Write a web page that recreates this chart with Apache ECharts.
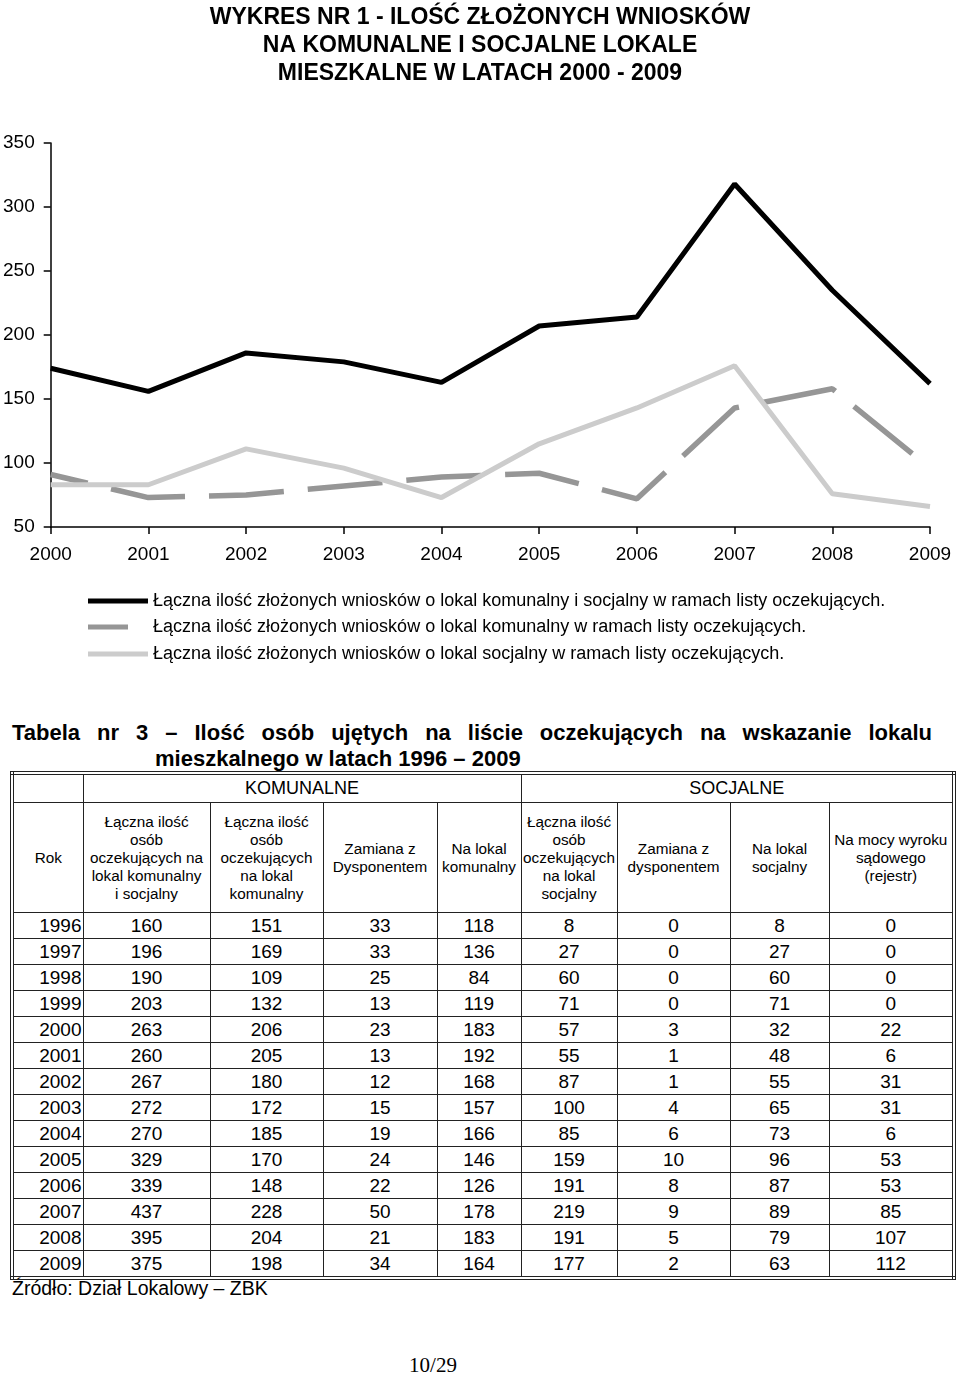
<!DOCTYPE html>
<html>
<head>
<meta charset="utf-8">
<script src="https://cdn.jsdelivr.net/npm/echarts@6/dist/echarts.min.js"></script>
<style>
  html, body { margin: 0; padding: 0; background: #fff; }
  body { width: 960px; height: 1375px; position: relative; overflow: hidden; font-family: "Liberation Sans", Arial, sans-serif; color: #000; }
  #chart { position: absolute; left: 0; top: 0; width: 960px; height: 690px; }
  #tblTitle { position: absolute; left: 12px; top: 720px; width: 920px; font-weight: bold; font-size: 22px; line-height: 26px; }
  #tblTitle .l1 { text-align: justify; text-align-last: justify; white-space: nowrap; }
  #tblTitle .l2 { padding-left: 143px; }
  #tbl { position: absolute; left: 10px; top: 771px; border-collapse: collapse; table-layout: fixed; width: 945px; border: 4px double #222; }
  #tbl td { border: 1px solid #222; padding: 0; text-align: center; vertical-align: middle; overflow: hidden; }
  #tbl tr.grp td { height: 27px; font-size: 18px; }
  #tbl tr.hdr td { height: 109px; font-size: 15.3px; line-height: 18px; }
  #tbl tr.dat td { height: 25px; font-size: 19px; line-height: 22px; }
  #tbl tr.dat td.yr { text-align: right; padding-right: 1px; }
  #src { position: absolute; left: 12px; top: 1276px; font-size: 19.5px; line-height: 24px; white-space: nowrap; }
  #page { position: absolute; left: 0; width: 866px; text-align: center; top: 1352px; font-family: "Liberation Serif", "Times New Roman", serif; font-size: 21px; line-height: 26px; }
</style>
</head>
<body>
<div id="chart"></div>
<div id="tblTitle">
  <div class="l1">Tabela nr 3 – Ilość osób ujętych na liście oczekujących na wskazanie lokalu</div>
  <div class="l2">mieszkalnego w latach 1996 – 2009</div>
</div>
<table id="tbl"></table>
<div id="src">Źródło: Dział Lokalowy – ZBK</div>
<div id="page">10/29</div>
<script>
// ---- Chart data ----
var chartYears = ['2000', '2001', '2002', '2003', '2004', '2005', '2006', '2007', '2008', '2009'];
var totalApps = [174, 156, 186, 179, 163, 207, 214, 318, 235, 162];
var komunalneApps = [91, 73, 75, 82, 89, 92, 72, 143, 158, 96];
var socjalneApps = [83, 83, 111, 96, 73, 115, 143, 176, 76, 66];
var yTicks = [50, 100, 150, 200, 250, 300, 350];

var seriesNames = [
  'Łączna ilość złożonych wniosków o lokal komunalny i socjalny w ramach listy oczekujących.',
  'Łączna ilość złożonych wniosków o lokal komunalny w ramach listy oczekujących.',
  'Łączna ilość złożonych wniosków o lokal socjalny w ramach listy oczekujących.'
];

// ---- Table data ----
var tableYears = [1996, 1997, 1998, 1999, 2000, 2001, 2002, 2003, 2004, 2005, 2006, 2007, 2008, 2009];
var colTotal = [160, 196, 190, 203, 263, 260, 267, 272, 270, 329, 339, 437, 395, 375];
var colKomTotal = [151, 169, 109, 132, 206, 205, 180, 172, 185, 170, 148, 228, 204, 198];
var colKomZamiana = [33, 33, 25, 13, 23, 13, 12, 15, 19, 24, 22, 50, 21, 34];
var colKomLokal = [118, 136, 84, 119, 183, 192, 168, 157, 166, 146, 126, 178, 183, 164];
var colSocTotal = [8, 27, 60, 71, 57, 55, 87, 100, 85, 159, 191, 219, 191, 177];
var colSocZamiana = [0, 0, 0, 0, 3, 1, 1, 4, 6, 10, 8, 9, 5, 2];
var colSocLokal = [8, 27, 60, 71, 32, 48, 55, 65, 73, 96, 87, 89, 79, 63];
var colSocWyrok = [0, 0, 0, 0, 22, 6, 31, 31, 6, 53, 53, 85, 107, 112];
var groupHeaders = ['KOMUNALNE', 'SOCJALNE'];
var colHeaders = [
  'Rok',
  'Łączna ilość<br>osób<br>oczekujących na<br>lokal komunalny<br>i socjalny',
  'Łączna ilość<br>osób<br>oczekujących<br>na lokal<br>komunalny',
  'Zamiana z<br>Dysponentem',
  'Na lokal<br>komunalny',
  'Łączna ilość<br>osób<br>oczekujących<br>na lokal<br>socjalny',
  'Zamiana z<br>dysponentem',
  'Na lokal<br>socjalny',
  'Na mocy wyroku<br>sądowego<br>(rejestr)'
];
var colWidths = [71, 127, 113, 114, 84, 96, 113, 99, 125];

// ---- Build table ----
(function () {
  var t = document.getElementById('tbl');
  var html = '<colgroup>';
  colWidths.forEach(function (w) { html += '<col style="width:' + w + 'px">'; });
  html += '</colgroup>';
  html += '<tr class="grp"><td></td><td colspan="4">' + groupHeaders[0] + '</td><td colspan="4">' + groupHeaders[1] + '</td></tr>';
  html += '<tr class="hdr">';
  colHeaders.forEach(function (h) { html += '<td>' + h + '</td>'; });
  html += '</tr>';
  var cols = [colTotal, colKomTotal, colKomZamiana, colKomLokal, colSocTotal, colSocZamiana, colSocLokal, colSocWyrok];
  tableYears.forEach(function (y, i) {
    html += '<tr class="dat"><td class="yr">' + y + '</td>';
    cols.forEach(function (c) { html += '<td>' + c[i] + '</td>'; });
    html += '</tr>';
  });
  t.innerHTML = html;
})();

// ---- Chart ----
var chart = echarts.init(document.getElementById('chart'), null, { renderer: 'canvas' });
var font = '"Liberation Sans", Arial, sans-serif';
function legendFor(name, top, width, pad) {
  return {
    data: [name],
    left: 88,
    top: top,
    padding: 0,
    icon: 'rect',
    itemWidth: width,
    itemHeight: 5,
    selectedMode: false,
    itemStyle: { borderWidth: 0 },
    textStyle: { color: '#000', fontSize: 18, fontFamily: font, lineHeight: 22, padding: [0, 0, 0, pad] }
  };
}
chart.setOption({
  animation: false,
  backgroundColor: '#fff',
  title: {
    text: 'WYKRES NR 1 - ILOŚĆ ZŁOŻONYCH WNIOSKÓW\nNA KOMUNALNE I SOCJALNE LOKALE\nMIESZKALNE W LATACH 2000 - 2009',
    left: 'center',
    top: 4,
    padding: 0,
    textStyle: { color: '#000', fontSize: 23, fontWeight: 'bold', fontFamily: font, lineHeight: 28 }
  },
  legend: [
    legendFor(seriesNames[0], 590, 60, 0),
    legendFor(seriesNames[1], 616, 40, 20),
    legendFor(seriesNames[2], 643, 60, 0)
  ],
  grid: { left: 50, right: 30, top: 143, bottom: 163, containLabel: false },
  xAxis: {
    type: 'category',
    data: chartYears,
    boundaryGap: false,
    axisLine: { show: true, lineStyle: { color: '#000', width: 1.5 } },
    axisTick: { show: true, alignWithLabel: true, length: 7, lineStyle: { color: '#000', width: 1.5 } },
    axisLabel: { color: '#000', fontSize: 19, fontFamily: font, margin: 18 },
    splitLine: { show: false }
  },
  yAxis: {
    type: 'value',
    min: yTicks[0],
    max: yTicks[yTicks.length - 1],
    interval: 50,
    axisLine: { show: true, lineStyle: { color: '#000', width: 1.5 } },
    axisTick: { show: true, length: 7, lineStyle: { color: '#000', width: 1.5 } },
    axisLabel: { color: '#000', fontSize: 19, fontFamily: font, margin: 16 },
    splitLine: { show: false }
  },
  series: [
    {
      name: seriesNames[0], type: 'line', data: totalApps, symbol: 'none',
      color: '#000000',
      lineStyle: { color: '#000000', width: 5 }
    },
    {
      name: seriesNames[1], type: 'line', data: komunalneApps, symbol: 'none',
      color: '#969696',
      lineStyle: { color: '#969696', width: 5.5, type: [75, 24], dashOffset: 37 }
    },
    {
      name: seriesNames[2], type: 'line', data: socjalneApps, symbol: 'none',
      color: '#cccccc',
      lineStyle: { color: '#cccccc', width: 5 }
    }
  ]
});
</script>
</body>
</html>
